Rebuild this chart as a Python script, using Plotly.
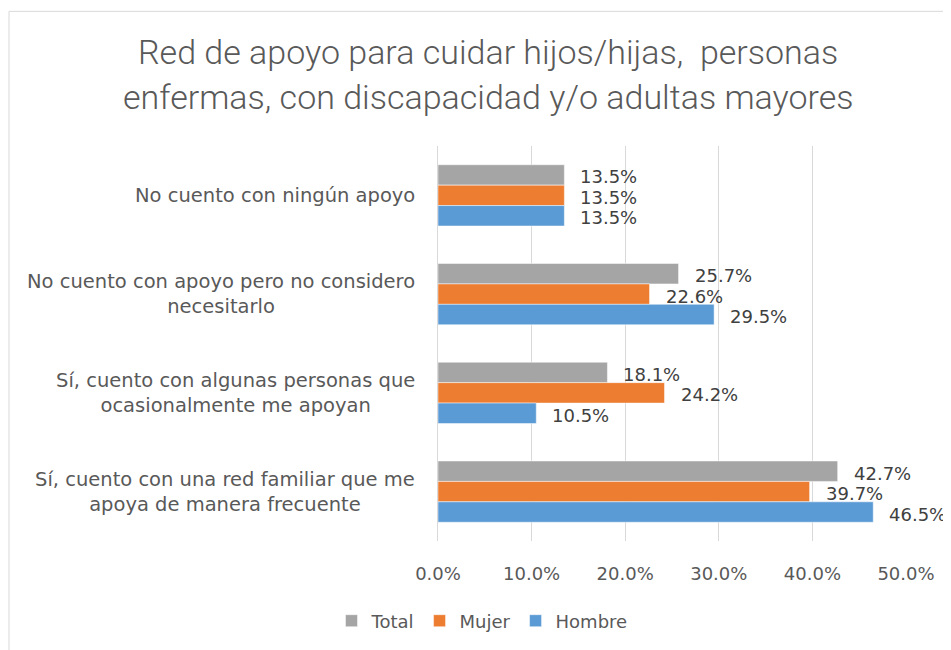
import plotly.graph_objects as go

categories = [
    "No cuento con ningún apoyo",
    "No cuento con apoyo pero no considero<br>necesitarlo",
    "Sí, cuento con algunas personas que<br>ocasionalmente me apoyan",
    "Sí, cuento con una red familiar que me<br>apoya de manera frecuente",
]
series_names = ["Total", "Mujer", "Hombre"]
total = [13.5, 25.7, 18.1, 42.7]
mujer = [13.5, 22.6, 24.2, 39.7]
hombre = [13.5, 29.5, 10.5, 46.5]
tick_vals = [0, 10, 20, 30, 40, 50]
tick_text = ["0.0%", "10.0%", "20.0%", "30.0%", "40.0%", "50.0%"]
title_lines = ["Red de apoyo para cuidar hijos/hijas,  personas",
               "enfermas, con discapacidad y/o adultas mayores"]

colors = ["#A5A5A5", "#ED7D31", "#5B9BD5"]
values = [total, mujer, hombre]

# page offset of the figure (body margin)
OX, OY = 8, 8
W, H = 951 - OX, 650 - OY
# plot area in page pixels
PL, PR, PT, PB = 438, 906, 146, 542
L, T = PL - OX, PT - OY
R, B = W - (PR - OX), H - (PB - OY)
pw = PR - PL
ph = PB - PT

def px(xp):
    return (xp - PL) / pw

def py(yp):
    return (PB - yp) / ph

body_font = "DejaVu Sans"

fig = go.Figure()
for name, vals, col in zip(series_names, values, colors):
    fig.add_trace(go.Bar(
        y=categories, x=vals, name=name, orientation="h",
        marker=dict(color=col, line=dict(color="rgba(255,255,255,0.6)", width=0.8)),
        hoverinfo="x+name",
    ))

annotations = []
# title lines
for line, yp in zip(title_lines, [52, 97]):
    annotations.append(dict(
        text=line, xref="paper", yref="paper", x=px(488), y=py(yp),
        xanchor="center", yanchor="middle", showarrow=False,
        font=dict(family="Roboto", size=34, color="#595959", weight=300),
    ))
# category labels
for cat in categories:
    annotations.append(dict(
        text=cat, xref="paper", yref="y", x=px(417), y=cat,
        xanchor="right", yanchor="middle", align="center", showarrow=False,
        font=dict(family=body_font, size=19.5, color="#595959"),
    ))
# data labels
bar_px = 20.5
for j, vals in enumerate(values):
    for cat, v in zip(categories, vals):
        annotations.append(dict(
            text=f"{v:.1f}%", xref="x", yref="y", x=v, y=cat,
            xanchor="left", yanchor="middle", showarrow=False,
            xshift=14, yshift=(1 - j) * bar_px - 2,
            font=dict(family=body_font, size=18, color="#404040"),
        ))

fig.update_layout(
    width=W, height=H,
    margin=dict(l=L, r=R, t=T, b=B),
    paper_bgcolor="white", plot_bgcolor="white",
    barmode="group", bargap=0.38, bargroupgap=0,
    showlegend=True,
    legend=dict(orientation="h", x=px(482), y=py(621), xanchor="center", yanchor="middle",
                font=dict(family=body_font, size=18, color="#595959"),
                itemwidth=30, traceorder="normal"),
    xaxis=dict(range=[0, 50], tickvals=tick_vals, ticktext=tick_text,
               showgrid=True, gridcolor="#D9D9D9", gridwidth=1,
               zeroline=False, showline=False,
               ticks="outside", ticklen=16, tickcolor="rgba(0,0,0,0)",
               tickfont=dict(family=body_font, size=18, color="#595959"),
               fixedrange=True),
    yaxis=dict(range=[3.5, -0.5], showticklabels=False, showgrid=False,
               zeroline=False, showline=True, linecolor="#D9D9D9", linewidth=1,
               fixedrange=True),
    annotations=annotations,
    shapes=[dict(type="rect", xref="paper", yref="paper",
                 x0=px(9), x1=px(967), y0=py(665), y1=py(11),
                 line=dict(color="#D9D9D9", width=1), fillcolor="rgba(0,0,0,0)",
                 layer="below")],
)

fig.write_html("out.html")
